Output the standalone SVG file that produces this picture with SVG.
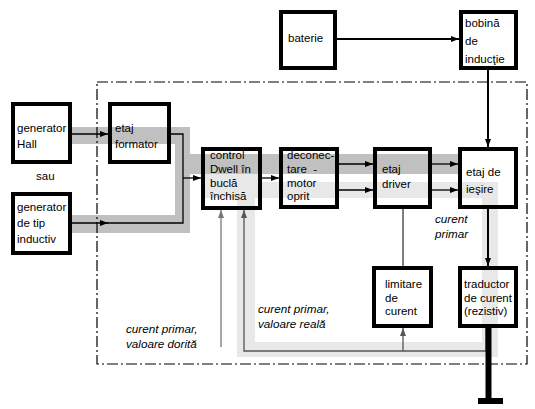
<svg xmlns="http://www.w3.org/2000/svg" width="535" height="409" viewBox="0 0 535 409">
<defs>
<style>
.box{fill:none;stroke:#000;stroke-width:4}
.t{font-family:"Liberation Sans",Arial,sans-serif;font-size:11.5px;fill:#000}
.i{font-family:"Liberation Sans",Arial,sans-serif;font-size:11.7px;font-style:italic;fill:#000}
.c{fill:none;stroke:#000;stroke-width:1.3}
.ck{fill:none;stroke:#000;stroke-width:2}
.g{fill:none;stroke:#555;stroke-width:1.3}
.g2{fill:none;stroke:#777;stroke-width:1.3}
.dk{fill:#c0c0c0}
.lt{fill:#e8e8e8}
</style>
<marker id="a" markerUnits="userSpaceOnUse" markerWidth="8" markerHeight="6" refX="8" refY="3" orient="auto"><path d="M0,0 L8,3 L0,6 z" fill="#000"/></marker>
<marker id="ag" markerUnits="userSpaceOnUse" markerWidth="8" markerHeight="6" refX="8" refY="3" orient="auto"><path d="M0,0 L8,3 L0,6 z" fill="#555"/></marker>
<marker id="ag2" markerUnits="userSpaceOnUse" markerWidth="8" markerHeight="6" refX="8" refY="3" orient="auto"><path d="M0,0 L8,3 L0,6 z" fill="#777"/></marker>
</defs>
<rect x="0" y="0" width="535" height="409" fill="#fff"/>
<g id="bands">
<rect class="dk" x="72" y="127" width="118" height="17"/>
<rect class="dk" x="175" y="127" width="15" height="106"/>
<rect class="dk" x="72" y="215" width="118" height="18"/>
<rect class="dk" x="175" y="154" width="283" height="20"/>
<rect class="lt" x="237" y="182" width="261" height="16"/>
<rect class="lt" x="205" y="174" width="53" height="24"/>
<rect class="lt" x="237" y="182" width="18" height="175"/>
<rect class="lt" x="237" y="342" width="261" height="15"/>
<rect class="lt" x="482" y="182" width="16" height="175"/>
</g>
<g id="frame">
<rect x="97" y="82" width="430" height="282" fill="none" stroke="#000" stroke-width="1.2" stroke-dasharray="11 3 2 3"/>
</g>
<g id="connectors">
<line class="c" x1="72" y1="134" x2="108" y2="134" marker-end="url(#a)"/>
<line class="c" x1="72" y1="223" x2="108" y2="223" marker-end="url(#a)"/>
<path class="c" d="M171,134 H183 V223 H107"/>
<line class="c" x1="183" y1="178" x2="201" y2="178" marker-end="url(#a)"/>
<line class="c" x1="262" y1="178" x2="279" y2="178" marker-end="url(#a)"/>
<line class="c" x1="339" y1="164" x2="373" y2="164" marker-end="url(#a)"/>
<line class="c" x1="339" y1="190" x2="373" y2="190" marker-end="url(#a)"/>
<line class="c" x1="432" y1="164" x2="458" y2="164" marker-end="url(#a)"/>
<line class="c" x1="432" y1="190" x2="458" y2="190" marker-end="url(#a)"/>
<line class="ck" x1="337" y1="39" x2="459" y2="39" marker-end="url(#a)"/>
<line class="ck" x1="488" y1="70" x2="488" y2="147" marker-end="url(#a)"/>
<line class="ck" x1="488" y1="209" x2="488" y2="266" marker-end="url(#a)"/>
<line x1="403" y1="209" x2="403" y2="266" stroke="#000" stroke-width="1"/>
<path class="g" d="M486,328 V351 H244 V210" marker-end="url(#ag)"/>
<line class="g" x1="403" y1="351" x2="403" y2="328" marker-end="url(#ag)"/>
<line class="g2" x1="221" y1="347" x2="221" y2="210" marker-end="url(#ag2)"/>
<line x1="488.5" y1="328" x2="488.5" y2="400" stroke="#000" stroke-width="6"/>
<rect x="478" y="398" width="25" height="6" fill="#000"/>
</g>
<g id="genHall"><rect class="box" x="13" y="104" width="57" height="58"/><text class="t" x="17" y="132">generator</text><text class="t" x="17" y="148">Hall</text></g>
<text class="t" x="36" y="180">sau</text>
<g id="genInd"><rect class="box" x="13" y="194" width="57" height="59"/><text class="t" x="17" y="211">generator</text><text class="t" x="17" y="227">de tip</text><text class="t" x="17" y="243">inductiv</text></g>
<g id="formator"><rect class="box" x="110" y="104" width="59" height="58"/><text class="t" x="115" y="132">etaj</text><text class="t" x="115" y="148">formator</text></g>
<g id="control"><rect class="box" x="203" y="149" width="57" height="59"/><text class="t" x="210" y="159">control</text><text class="t" x="210" y="173">Dwell în</text><text class="t" x="210" y="187">buclă</text><text class="t" x="210" y="200">închisă</text></g>
<g id="deconectare"><rect class="box" x="281" y="149" width="56" height="58"/><text class="t" x="287" y="159">deconec-</text><text class="t" x="287" y="173" xml:space="preserve">tare  -</text><text class="t" x="287" y="187">motor</text><text class="t" x="287" y="200">oprit</text></g>
<g id="driver"><rect class="box" x="375" y="149" width="55" height="58"/><text class="t" x="382" y="173">etaj</text><text class="t" x="382" y="188">driver</text></g>
<g id="iesire"><rect class="box" x="460" y="149" width="56" height="58"/><text class="t" x="466" y="176">etaj de</text><text class="t" x="466" y="193">ieşire</text></g>
<g id="baterie"><rect class="box" x="281" y="12" width="54" height="56"/><text class="t" x="288" y="42">baterie</text></g>
<g id="bobina"><rect class="box" x="461" y="12" width="55" height="56"/><text class="t" x="465" y="27">bobină</text><text class="t" x="465" y="45">de</text><text class="t" x="465" y="63">inducţie</text></g>
<g id="limitare"><rect class="box" x="374" y="268" width="57" height="58"/><text class="t" x="385" y="288">limitare</text><text class="t" x="385" y="302">de</text><text class="t" x="385" y="315">curent</text></g>
<g id="traductor"><rect class="box" x="460" y="268" width="56" height="58"/><text class="t" x="464" y="288">traductor</text><text class="t" x="464" y="302">de curent</text><text class="t" x="464" y="315">(rezistiv)</text></g>
<g id="labels">
<text class="i" x="435" y="223">curent</text><text class="i" x="435" y="238">primar</text>
<text class="i" x="258" y="313">curent primar,</text><text class="i" x="258" y="328">valoare reală</text>
<text class="i" x="126" y="333">curent primar,</text><text class="i" x="126" y="348">valoare dorită</text>
</g>
</svg>
